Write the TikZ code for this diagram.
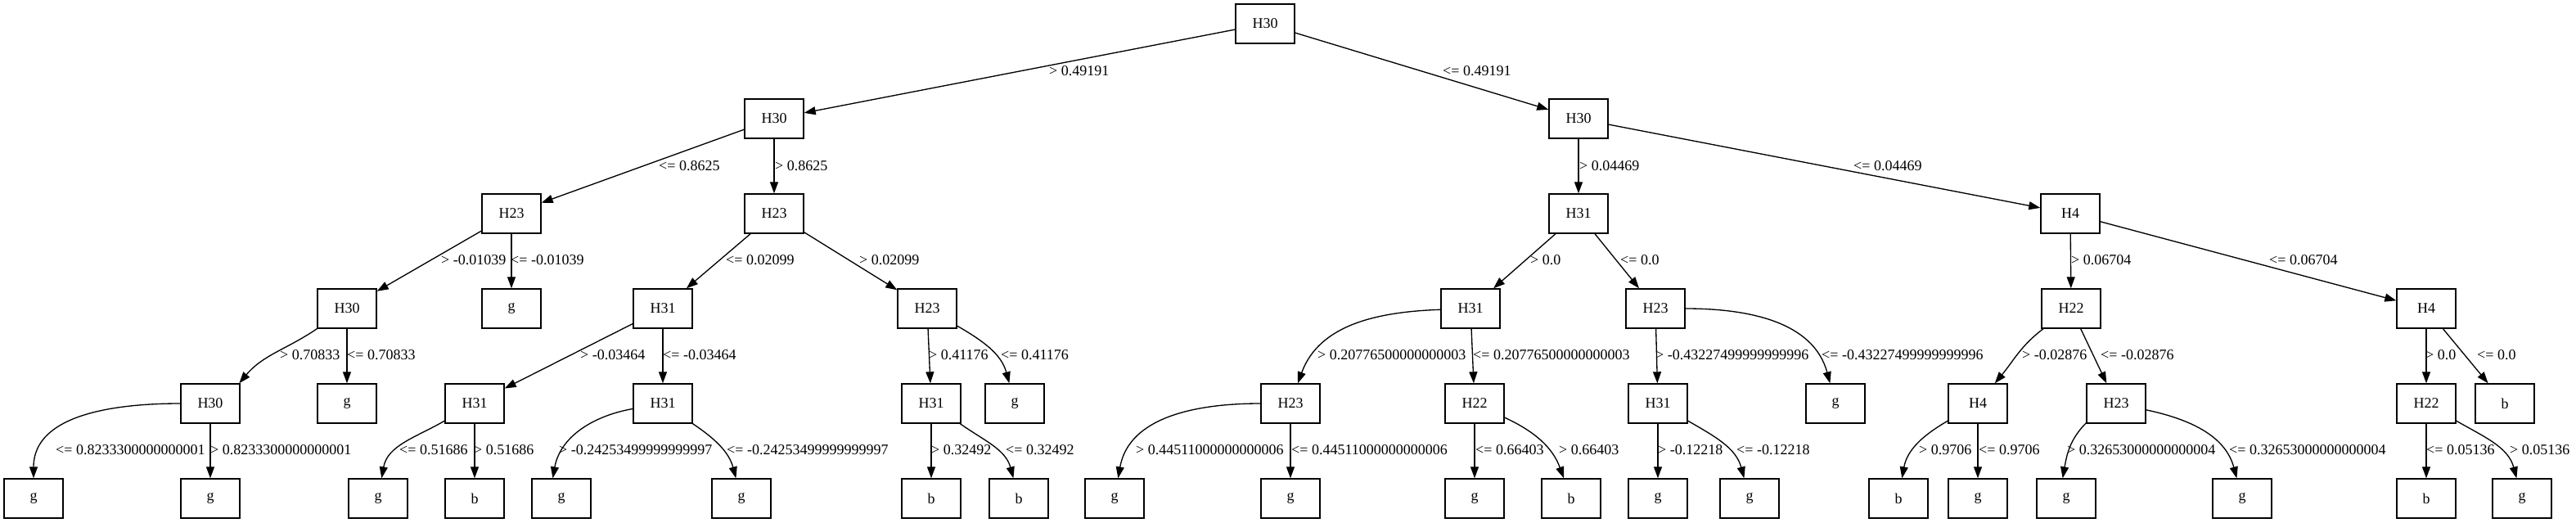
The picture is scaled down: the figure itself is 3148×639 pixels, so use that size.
\documentclass[tikz,border=0pt]{standalone}
\usepackage{fontspec}
\setmainfont{Liberation Serif}
\usetikzlibrary{arrows.meta}
\newcommand{\treefont}{\fontsize{18}{22}\selectfont}

\begin{document}
\begin{tikzpicture}[x=1pt,y=-1pt,
  box/.style={draw,line width=1.4pt,minimum width=72pt,minimum height=48pt,inner sep=0pt,font=\treefont},
  edge/.style={line width=1.33pt,-{Triangle[length=14pt,width=10pt]}},
  lbl/.style={anchor=west,inner sep=0pt,font=\treefont}]
\useasboundingbox (0,0) rectangle (3148,639);
% rows at y = 29, 145, 261, 377, 493, 609 ; a/b = drawn left/right child
\foreach \n/\x/\y/\t in {r/1546/29/H30,
  a/946/145/H30, b/1929/145/H30,
  aa/625/261/H23, ab/946/261/H23, ba/1929/261/H31, bb/2530/261/H4,
  aaa/424/377/H30, aab/625/377/g, aba/810/377/H31, abb/1133/377/H23,
  baa/1797/377/H31, bab/2023/377/H23, bba/2531/377/H22, bbb/2965/377/H4,
  aaaa/257/493/H30, aaab/424/493/g, abaa/580/493/H31, abab/810/493/H31,
  abba/1138/493/H31, abbb/1240/493/g, baaa/1577/493/H23, baab/1802/493/H22,
  baba/2026/493/H31, babb/2243/493/g, bbaa/2417/493/H4, bbab/2586/493/H23,
  bbba/2965/493/H22, bbbb/3061/493/b,
  aaaaa/41/609/g, aaaab/257/609/g, abaaa/462/609/g, abaab/580/609/b,
  ababa/686/609/g, ababb/906/609/g, abbaa/1138/609/b, abbab/1245/609/b,
  baaaa/1362/609/g, baaab/1577/609/g, baaba/1802/609/g, baabb/1920/609/b,
  babaa/2026/609/g, babab/2138/609/g, bbaaa/2320/609/b, bbaab/2417/609/g,
  bbaba/2525/609/g, bbabb/2740/609/g, bbbaa/2965/609/b, bbbab/3082/609/g}
  {\node[box] (\n) at (\x,\y) {\t};}
\foreach \s/\t in {r/a, r/b, a/aa, a/ab, b/ba, b/bb,
  aa/aaa, aa/aab, ab/aba, ab/abb, ba/baa, ba/bab, bb/bba, bb/bbb,
  aaa/aaab, aba/abaa, aba/abab, abb/abba, baa/baab, bab/baba,
  bba/bbab, bbb/bbba, bbb/bbbb,
  aaaa/aaaab, abaa/abaab, abba/abbaa, baaa/baaab, baab/baaba, baba/babaa,
  bbaa/bbaab, bbba/bbbaa}
  {\draw[edge] (\s) -- (\t);}
\foreach \s/\t/\o/\i in {aaa.214/aaaa.35/214/50, bba.216/bbaa.50/217/50,
  aaaa/aaaaa/180/90, abaa/abaaa/210/80,
  abab/ababa.113/190/80, abab/ababb/-34/105, abb/abbb/-30/105,
  abba/abbab/-35/105, baa/baaa/182/70, baaa/baaaa/180/80,
  baab/baabb/-25/110, bab/babb/0/105, baba/babab/-30/105,
  bbaa/bbaaa/210/80, bbab.213/bbaba.100/225/80, bbab/bbabb/-12/105,
  bbba/bbbab/-30/105}
  {\draw[edge] (\s) to[out=\o,in=\i] (\t);}
\foreach \x/\y/\t [count=\k] in {1282/87/> 0.49191, 1763/87/<= 0.49191,
  805/203/<= 0.8625, 947/203/> 0.8625, 1930/203/> 0.04469, 2265/203/<= 0.04469,
  539/318/> -0.01039, 624/318/<= -0.01039, 887/318/<= 0.02099, 1050/318/> 0.02099,
  1870/318/> 0.0, 1980/318/<= 0.0, 2531/318/> 0.06704, 2773/318/<= 0.06704,
  342/434/> 0.70833, 424/434/<= 0.70833, 709/434/> -0.03464, 810/434/<= -0.03464,
  1135/434/> 0.41176, 1223/434/<= 0.41176,
  1610/434/> 0.20776500000000003, 1800/434/<= 0.20776500000000003,
  2023/434/> -0.43227499999999996, 2226/434/<= -0.43227499999999996,
  2471/434/> -0.02876, 2567/434/<= -0.02876, 2964/434/> 0.0, 3027/434/<= 0.0,
  68/550/<= 0.8233300000000001, 257/550/> 0.8233300000000001,
  488/550/<= 0.51686, 579/550/> 0.51686,
  683/550/> -0.24253499999999997, 888/550/<= -0.24253499999999997,
  1138/550/> 0.32492, 1229/550/<= 0.32492,
  1388/550/> 0.44511000000000006, 1578/550/<= 0.44511000000000006,
  1803/550/<= 0.66403, 1905/550/> 0.66403, 2026/550/> -0.12218, 2122/550/<= -0.12218,
  2345/550/> 0.9706, 2418/550/<= 0.9706,
  2526/550/> 0.32653000000000004, 2724/550/<= 0.32653000000000004,
  2965/550/<= 0.05136, 3067/550/> 0.05136}
  {\node[lbl] (lab\k) at (\x,\y) {\t};}
\end{tikzpicture}
\end{document}
